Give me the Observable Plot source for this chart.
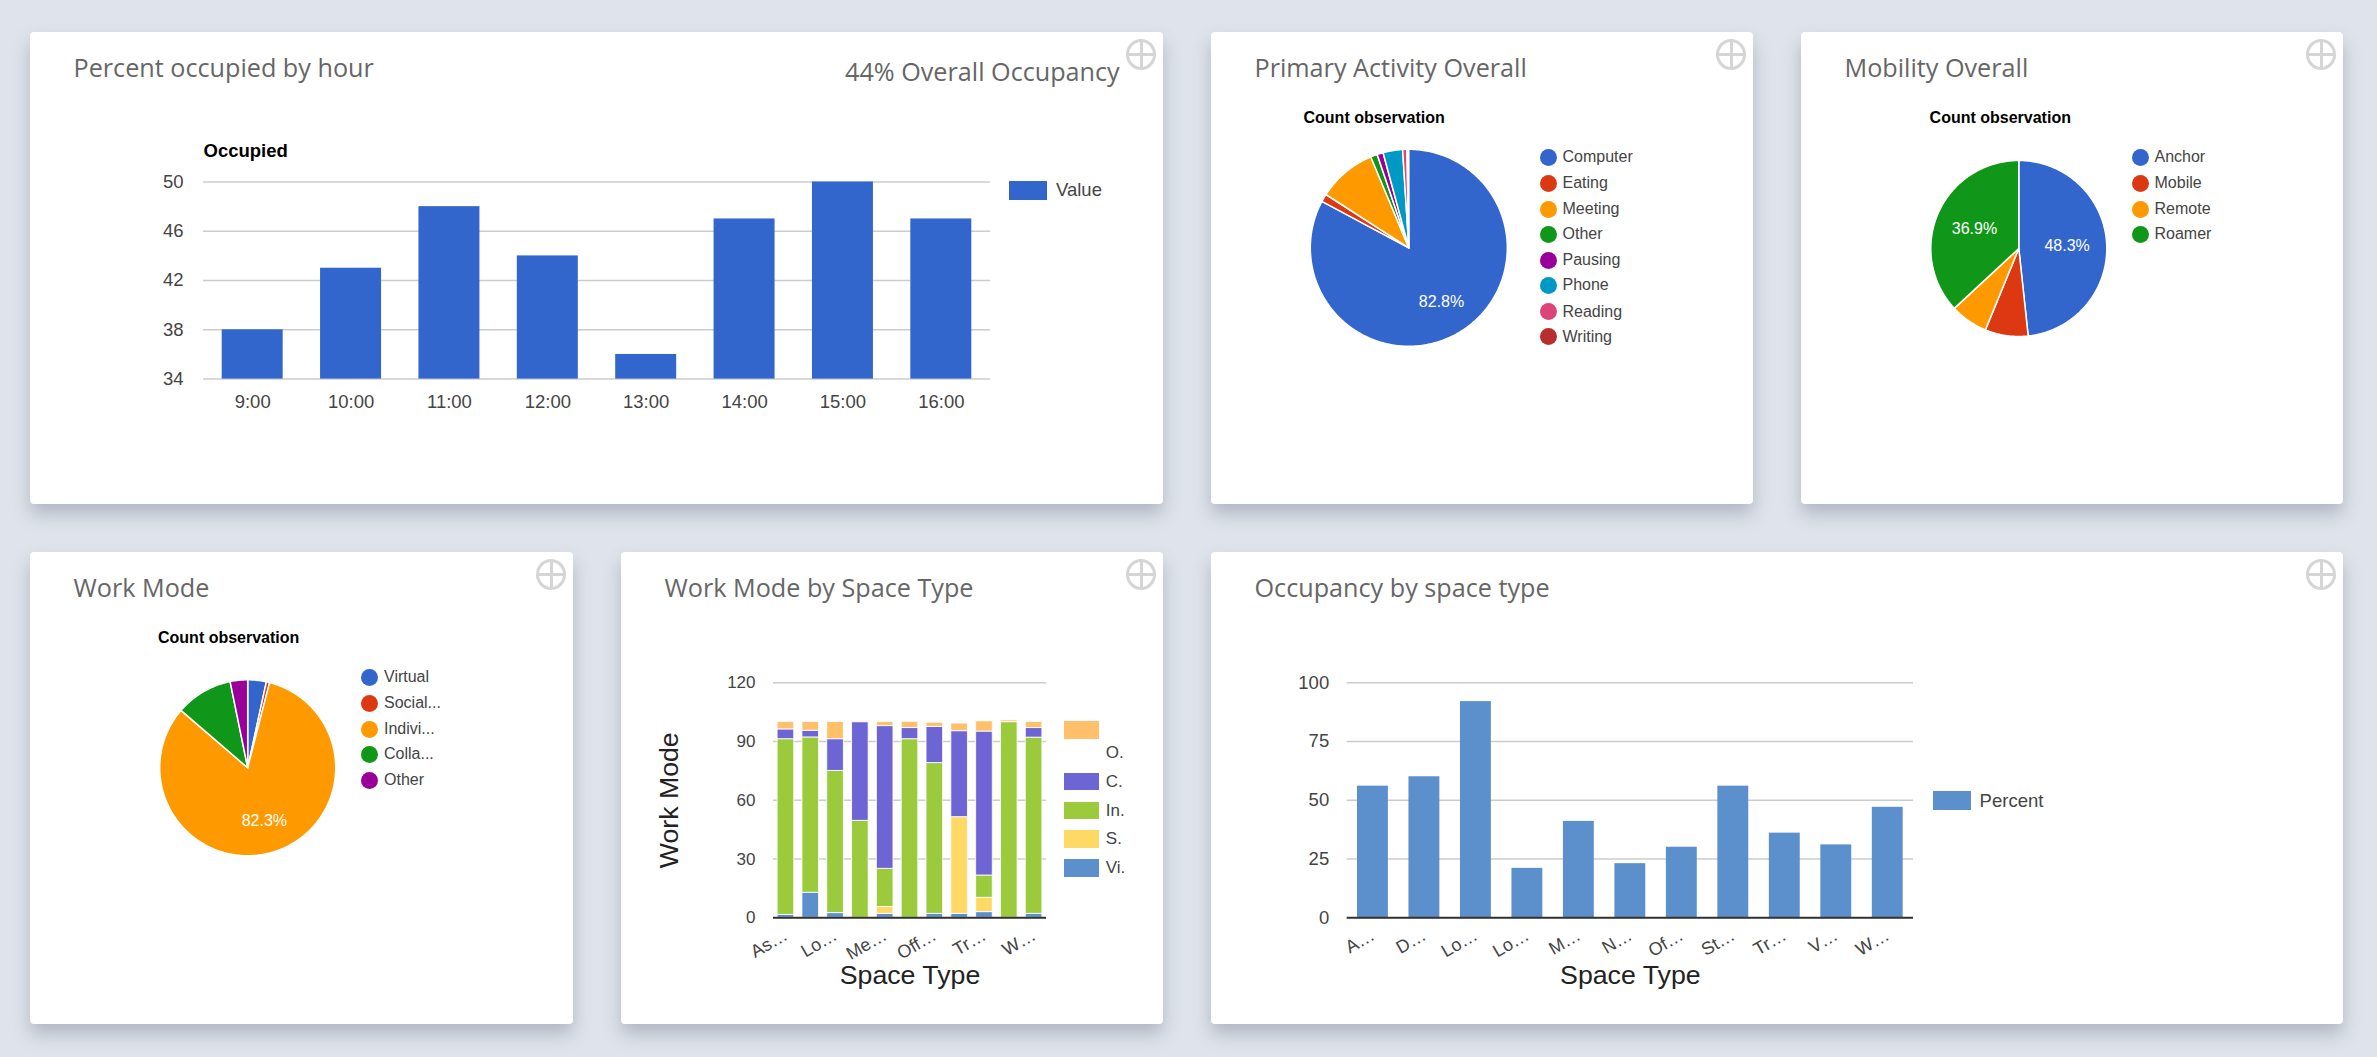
<!DOCTYPE html>
<html>
<head>
<meta charset="utf-8">
<script src="https://cdn.jsdelivr.net/npm/d3@7"></script>
<script src="https://cdn.jsdelivr.net/npm/@observablehq/plot@0.6"></script>
<style>
  html, body { margin: 0; padding: 0; width: 2377px; height: 1057px; overflow: hidden; background: #dfe4ec; }
  .card { position: absolute; background: #fff; border-radius: 4px; box-shadow: 0 10px 18px rgba(70, 80, 100, .3); }
  .card svg { position: absolute; left: 0; top: 0; }
  .title { position: absolute; font: 25.2px "Open Sans"; color: #666; white-space: nowrap; transform: translateY(-50%); }
  .txt { position: absolute; font-family: "Liberation Sans"; color: #444; white-space: nowrap; transform: translateY(-50%); z-index: 2; }
  .swatch { position: absolute; z-index: 2; }
  .icon { position: absolute; width: 24px; height: 25px; border: 3px solid #d5d5d5; border-radius: 50%; }
  .icon::before { content: ""; position: absolute; left: 10.5px; top: 0; width: 3px; height: 100%; background: #d5d5d5; }
  .icon::after { content: ""; position: absolute; left: 0; top: 11px; height: 3px; width: 100%; background: #d5d5d5; }
</style>
</head>
<body>
<script>
// percent occupied by hour
const hours = ["9:00", "10:00", "11:00", "12:00", "13:00", "14:00", "15:00", "16:00"];
const occupied = [38, 43, 48, 44, 36, 47, 50, 47];
const occupiedTicks = [34, 38, 42, 46, 50];

// pies
const activityNames = ["Computer", "Eating", "Meeting", "Other", "Pausing", "Phone", "Reading", "Writing"];
const activityValues = [82.8, 1.3, 9.6, 1.1, 1.0, 3.2, 0.7, 0.2];
const mobilityNames = ["Anchor", "Mobile", "Remote", "Roamer"];
const mobilityValues = [48.3, 7.9, 6.9, 36.9];
const workModeNames = ["Virtual", "Social...", "Indivi...", "Colla...", "Other"];
const workModeValues = [3.4, 0.6, 82.3, 10.5, 3.2];
const pieColors = ["#3366cc", "#dc3912", "#ff9900", "#109618", "#990099", "#0099c6", "#dd4477", "#b82e2e"];

// work mode by space type
const modeLabels = ["As…", "D…", "Lo…", "Lo…", "Me…", "N…", "Off…", "St…", "Tr…", "V…", "W…"];
const modeNames = ["Vi.", "S.", "In.", "C.", "O."];
const modeVirtual = [1.5, 12.8, 2.4, 0, 2, 0, 2, 2, 2.9, 0, 2];
const modeSocial = [0, 0, 0, 0, 3.5, 0, 0, 49.4, 7.3, 0, 0];
const modeIndividual = [89.7, 79.3, 72.6, 49.5, 19.5, 91.2, 77, 0, 11.4, 99.9, 90];
const modeCollab = [5, 3.4, 16.2, 50.4, 72.9, 5.7, 18.5, 43.9, 73.5, 0, 4.9];
const modeOther = [3.8, 4.5, 8.8, 0.6, 2.1, 3.2, 2.1, 3.9, 5.2, 0.9, 3.1];
const modeColors = ["#5b90cc", "#ffd966", "#9bca3c", "#6d65d3", "#ffc069"];
const modeTicks = [0, 30, 60, 90, 120];

// occupancy by space type
const spaceLabels = ["A…", "D…", "Lo…", "Lo…", "M…", "N…", "Of…", "St…", "Tr…", "V…", "W…"];
const spacePercent = [56, 60, 92, 21, 41, 23, 30, 56, 36, 31, 47];
const spaceTicks = [0, 25, 50, 75, 100];

const FONT = "Liberation Sans";

function addCard(x, y, w, h, title) {
  const c = document.createElement("div");
  c.className = "card";
  c.style.cssText = `left:${x}px;top:${y}px;width:${w}px;height:${h}px`;
  const t = document.createElement("div");
  t.className = "title";
  t.textContent = title;
  t.style.cssText = `left:43.5px;top:34.5px`;
  const i = document.createElement("div");
  i.className = "icon";
  i.style.cssText = `right:7px;top:7px`;
  c.append(t, i);
  document.body.append(c);
  return {el: c, x, y, w, h};
}

function addText(text, x, y, size, extra = "") {
  const d = document.createElement("div");
  d.className = "txt";
  d.textContent = text;
  d.style.cssText = `left:${x}px;top:${y}px;font-size:${size}px;${extra}`;
  document.body.append(d);
}

function addSwatch(x, y, w, h, color, round) {
  const d = document.createElement("div");
  d.className = "swatch";
  d.style.cssText = `left:${x}px;top:${y}px;width:${w}px;height:${h}px;background:${color};border-radius:${round ? "50%" : "0"}`;
  document.body.append(d);
}

// frame of a plot in page pixels, margins relative to its card
function frame(card, left, top, right, bottom) {
  return {
    width: card.w, height: card.h,
    marginLeft: left - card.x, marginTop: top - card.y,
    marginRight: card.x + card.w - right, marginBottom: card.y + card.h - bottom,
    style: {fontFamily: FONT, background: "transparent", color: "#444", overflow: "visible"}
  };
}

function pie(card, names, values, cx, cy, r, labelR, titleX, titleY, legendX, legendYs) {
  const outline = [];
  const labels = [];
  let start = 0;
  names.forEach((name, i) => {
    const end = start + values[i] / 100 * 2 * Math.PI;
    outline.push({name, x: 0, y: 0});
    const n = Math.max(2, Math.ceil((end - start) * 60));
    for (let k = 0; k <= n; k++) {
      const a = start + (end - start) * k / n;
      outline.push({name, x: Math.sin(a), y: Math.cos(a)});
    }
    outline.push({name, x: 0, y: 0});
    const mid = (start + end) / 2;
    if (values[i] > 20) labels.push({x: Math.sin(mid) * labelR, y: Math.cos(mid) * labelR, text: values[i].toFixed(1) + "%"});
    start = end;
  });

  const chart = Plot.plot({
    ...frame(card, cx - r, cy - r, cx + r, cy + r),
    x: {domain: [-1, 1], axis: null},
    y: {domain: [-1, 1], axis: null},
    color: {domain: names, range: pieColors},
    marks: [
      Plot.line(outline, {x: "x", y: "y", z: "name", fill: "name", stroke: "#fff", strokeWidth: 1.5}),
      Plot.text(labels, {x: "x", y: "y", text: "text", fill: "#fff", fontSize: 16})
    ]
  });
  card.el.append(chart);

  addText("Count observation", titleX, titleY, 16, "font-weight:bold;color:#000");
  names.forEach((name, i) => {
    addSwatch(legendX - 8.5, legendYs[i] - 8.5, 17, 17, pieColors[i], true);
    addText(name, legendX + 14.5, legendYs[i], 16);
  });
}

// cards
const c1 = addCard(30, 32, 1133, 472, "Percent occupied by hour");
const c2 = addCard(1211, 32, 542, 472, "Primary Activity Overall");
const c3 = addCard(1801, 32, 542, 472, "Mobility Overall");
const c4 = addCard(30, 552, 543, 472, "Work Mode");
const c5 = addCard(621, 552, 542, 472, "Work Mode by Space Type");
const c6 = addCard(1211, 552, 1132, 472, "Occupancy by space type");

addText("44% Overall Occupancy", 845, 71, 25.2, "font-family:'Open Sans';color:#666");

// chart 1
c1.el.append(Plot.plot({
  ...frame(c1, 203, 181.5, 990, 378.6),
  x: {domain: hours, paddingInner: 0.38, paddingOuter: 0.19, round: false},
  y: {domain: [34, 50]},
  marks: [
    Plot.gridY(occupiedTicks, {stroke: "#ccc", strokeOpacity: 1, strokeWidth: 1.5}),
    Plot.barY(occupied, {x: hours, y1: () => 34, y2: d => d, fill: "#3366cc"}),
    Plot.axisX({tickSize: 0, tickPadding: 16, fontSize: 18.5, label: null}),
    Plot.axisY({ticks: occupiedTicks, tickSize: 0, tickPadding: 20, fontSize: 18.5, label: null}),
    Plot.text(["Occupied"], {frameAnchor: "top-left", dy: -38, fontSize: 18.5, fontWeight: "bold", fill: "#000", text: d => d})
  ]
}));
addSwatch(1009, 180.5, 38, 19.5, "#3366cc");
addText("Value", 1056, 190, 18.5);

// pies
const legend8 = [157, 183.3, 209.4, 234.4, 260.1, 285.4, 311.5, 336.8];
pie(c2, activityNames, activityValues, 1408.3, 247.3, 98.5, 0.646, 1303.5, 118.3, 1548, legend8);
pie(c3, mobilityNames, mobilityValues, 2018.3, 248, 88, 0.55, 1929.6, 118.3, 2140, legend8);
pie(c4, workModeNames, workModeValues, 247.2, 767.3, 88, 0.63, 158, 638.2, 369.5, [677, 703.2, 729.1, 754.3, 780.2]);

// chart 5
const modeSeries = [modeVirtual, modeSocial, modeIndividual, modeCollab, modeOther];
const modeRows = modeSeries.flatMap((vals, s) => vals.map((v, i) => ({i, v, mode: modeNames[s]})));
c5.el.append(Plot.plot({
  ...frame(c5, 773, 682.3, 1046, 917.3),
  x: {domain: modeLabels.map((_, i) => i), paddingInner: 0.33, paddingOuter: 0.165, round: false},
  y: {domain: [0, 120]},
  color: {domain: modeNames, range: modeColors},
  marks: [
    Plot.gridY(modeTicks, {stroke: "#ccc", strokeOpacity: 1, strokeWidth: 1.5}),
    Plot.barY(modeRows, {x: "i", y: "v", fill: "mode", order: modeNames, stroke: "#fff", strokeWidth: 1, strokeOpacity: 0.85, filter: d => d.v > 0}),
    Plot.ruleY([0], {stroke: "#333", strokeWidth: 2}),
    Plot.axisX({ticks: [0, 2, 4, 6, 8, 10], tickFormat: i => modeLabels[i], tickRotate: -30, tickSize: 0, tickPadding: 16, fontSize: 18, label: null}),
    Plot.axisY({ticks: modeTicks, tickSize: 0, tickPadding: 18, fontSize: 17, label: null}),
    Plot.text(["Space Type"], {frameAnchor: "bottom", dy: 66, fontSize: 26.7, fill: "#222", text: d => d}),
    Plot.text(["Work Mode"], {frameAnchor: "left", textAnchor: "middle", dx: -104, rotate: -90, fontSize: 26.7, fill: "#222", text: d => d})
  ]
}));
const modeLegendY = [859.3, 830.3, 801.7, 772.7, 721.3];
const modeLabelY = [867.7, 839, 811, 782, 753];
modeNames.forEach((name, i) => {
  addSwatch(1063.6, modeLegendY[i], 35.5, 17.7, modeColors[i]);
  addText(name, 1105.8, modeLabelY[i], 17);
});

// chart 6
c6.el.append(Plot.plot({
  ...frame(c6, 1346.7, 682.3, 1913, 917.2),
  x: {domain: spaceLabels.map((_, i) => i), paddingInner: 0.4, paddingOuter: 0.2, round: false},
  y: {domain: [0, 100]},
  marks: [
    Plot.gridY(spaceTicks, {stroke: "#ccc", strokeOpacity: 1, strokeWidth: 1.5}),
    Plot.barY(spacePercent, {x: spaceLabels.map((_, i) => i), y: d => d, fill: "#5b90cc"}),
    Plot.ruleY([0], {stroke: "#333", strokeWidth: 2}),
    Plot.axisX({tickFormat: i => spaceLabels[i], tickRotate: -30, tickSize: 0, tickPadding: 16, fontSize: 18, label: null}),
    Plot.axisY({ticks: spaceTicks, tickSize: 0, tickPadding: 18, fontSize: 18.5, label: null}),
    Plot.text(["Space Type"], {frameAnchor: "bottom", dy: 66, fontSize: 26.7, fill: "#222", text: d => d})
  ]
}));
addSwatch(1932.6, 790.5, 38, 19.2, "#5b90cc");
addText("Percent", 1979.6, 800.6, 18.5);
</script>
</body>
</html>
